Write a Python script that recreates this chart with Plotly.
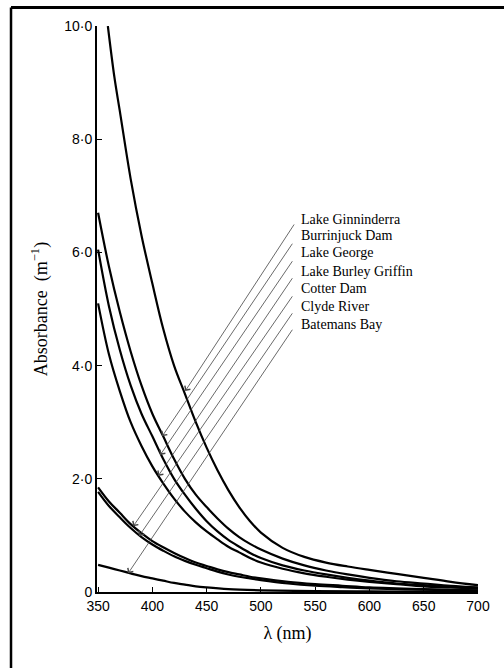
import plotly.graph_objects as go

# ---- data ----
wl_ginninderra = [359, 365, 370, 380, 390, 400, 410, 420, 430, 440, 450, 460, 470, 480, 490, 500,
                  520, 540, 560, 580, 600, 625, 650, 675, 700]
ab_ginninderra = [10.0, 9.1, 8.5, 7.3, 6.3, 5.45, 4.65, 4.0, 3.5, 3.0, 2.55, 2.15, 1.8, 1.5, 1.25, 1.05,
                  0.78, 0.62, 0.52, 0.45, 0.39, 0.32, 0.25, 0.18, 0.12]

wl_upper = [350, 360, 370, 380, 390, 400, 410, 420, 430, 440, 450, 460, 470, 480, 490, 500,
            520, 540, 560, 580, 600, 625, 650, 675, 700]
ab_burrinjuck = [6.7, 5.75, 4.95, 4.25, 3.65, 3.15, 2.75, 2.35, 2.0, 1.72, 1.5, 1.3, 1.12, 0.97, 0.85, 0.75,
                 0.59, 0.47, 0.38, 0.31, 0.25, 0.19, 0.15, 0.11, 0.08]
ab_george = [6.05, 5.05, 4.28, 3.65, 3.15, 2.75, 2.35, 2.0, 1.72, 1.47, 1.25, 1.07, 0.92, 0.8, 0.69, 0.6,
             0.47, 0.38, 0.31, 0.25, 0.2, 0.15, 0.12, 0.09, 0.07]
ab_burley = [5.1, 4.2, 3.55, 3.0, 2.58, 2.22, 1.92, 1.65, 1.42, 1.23, 1.07, 0.93, 0.8, 0.7, 0.6, 0.52,
             0.41, 0.33, 0.27, 0.22, 0.18, 0.14, 0.1, 0.08, 0.06]

wl_lower = [350, 360, 370, 380, 390, 400, 410, 420, 430, 440, 450, 460, 470, 480, 490, 500,
            525, 550, 575, 600, 650, 700]
ab_cotter = [1.85, 1.6, 1.4, 1.2, 1.04, 0.9, 0.79, 0.69, 0.6, 0.52, 0.46, 0.4, 0.35, 0.31, 0.27, 0.24,
             0.18, 0.14, 0.11, 0.08, 0.05, 0.03]
ab_clyde = [1.77, 1.52, 1.32, 1.13, 0.97, 0.84, 0.73, 0.63, 0.55, 0.48, 0.42, 0.36, 0.31, 0.27, 0.24, 0.21,
            0.15, 0.11, 0.085, 0.065, 0.04, 0.02]

wl_batemans = [350, 360, 370, 380, 390, 400, 410, 420, 430, 440, 450, 470, 500, 550, 600, 650, 700]
ab_batemans = [0.48, 0.43, 0.38, 0.33, 0.28, 0.24, 0.2, 0.16, 0.13, 0.1, 0.08, 0.05, 0.03, 0.015, 0.01,
               0.007, 0.005]

site_names = ["Lake Ginninderra", "Burrinjuck Dam", "Lake George", "Lake Burley Griffin",
              "Cotter Dam", "Clyde River", "Batemans Bay"]
# arrow tip (on curve) and arrow tail (next to label), data coordinates
tip_wl = [430.3, 409.0, 407.2, 405.4, 382.3, 387.8, 377.7]
tip_ab = [3.55, 2.75, 2.42, 2.05, 1.16, 0.99, 0.33]
tail_wl = [531.5, 529.9, 529.9, 529.9, 529.9, 529.9, 529.9]
tail_ab = [6.52, 6.18, 5.87, 5.57, 5.25, 4.95, 4.66]
label_ab = [6.59, 6.29, 5.99, 5.67, 5.37, 5.04, 4.73]
label_wl = 535.5

x_ticks = [350, 400, 450, 500, 550, 600, 650, 700]
y_ticks = [0, 2, 4, 6, 8, 10]
y_tick_text = ["0", "2·0", "4·0", "6·0", "8·0", "10·0"]

series = [
    (wl_ginninderra, ab_ginninderra),
    (wl_upper, ab_burrinjuck),
    (wl_upper, ab_george),
    (wl_upper, ab_burley),
    (wl_lower, ab_cotter),
    (wl_lower, ab_clyde),
    (wl_batemans, ab_batemans),
]

fig = go.Figure()
for name, (xs, ys) in zip(site_names, series):
    fig.add_trace(go.Scatter(x=xs, y=ys, mode="lines", name=name,
                             line=dict(color="black", width=2.2, shape="spline", smoothing=1.0),
                             showlegend=False, hoverinfo="skip"))

annotations = []
for i, name in enumerate(site_names):
    # label text
    annotations.append(dict(x=label_wl, y=label_ab[i], xref="x", yref="y", text=name,
                            showarrow=False, xanchor="left", yanchor="middle",
                            font=dict(family="Liberation Serif", size=14, color="black")))
    # pointer arrow from the label to its curve
    annotations.append(dict(x=tip_wl[i], y=tip_ab[i], ax=tail_wl[i], ay=tail_ab[i],
                            xref="x", yref="y", axref="x", ayref="y", text="",
                            showarrow=True, arrowhead=4, arrowsize=1.6, arrowwidth=0.8,
                            arrowcolor="#444"))

shapes = [
    dict(type="line", xref="paper", yref="paper", x0=-0.2257, x1=1.07, y0=1.0327, y1=1.0327,
         line=dict(color="black", width=3)),
    dict(type="line", xref="paper", yref="paper", x0=-0.2257, x1=-0.2257, y0=1.0327, y1=-0.14,
         line=dict(color="black", width=2.5)),
]

fig.update_layout(
    width=504, height=668,
    margin=dict(l=97, r=26, t=26, b=76),
    paper_bgcolor="white", plot_bgcolor="white",
    annotations=annotations, shapes=shapes,
    xaxis=dict(range=[349, 700], tickvals=x_ticks, ticks="inside", ticklen=5,
               tickcolor="black", showline=True, linecolor="black", linewidth=2,
               showgrid=False, zeroline=False,
               tickfont=dict(family="Liberation Sans", size=14, color="black"),
               title=dict(text="λ (nm)", standoff=14,
                          font=dict(family="Liberation Serif", size=18, color="black"))),
    yaxis=dict(range=[0, 10], tickvals=y_ticks, ticktext=y_tick_text, ticks="inside",
               ticklen=5, tickcolor="black", showline=True, linecolor="black", linewidth=2,
               showgrid=False, zeroline=False,
               tickfont=dict(family="Liberation Sans", size=14, color="black"),
               title=dict(text="Absorbance  (m<sup>−1</sup>)", standoff=12,
                          font=dict(family="Liberation Serif", size=18, color="black"))),
)

fig.write_html("out.html")
